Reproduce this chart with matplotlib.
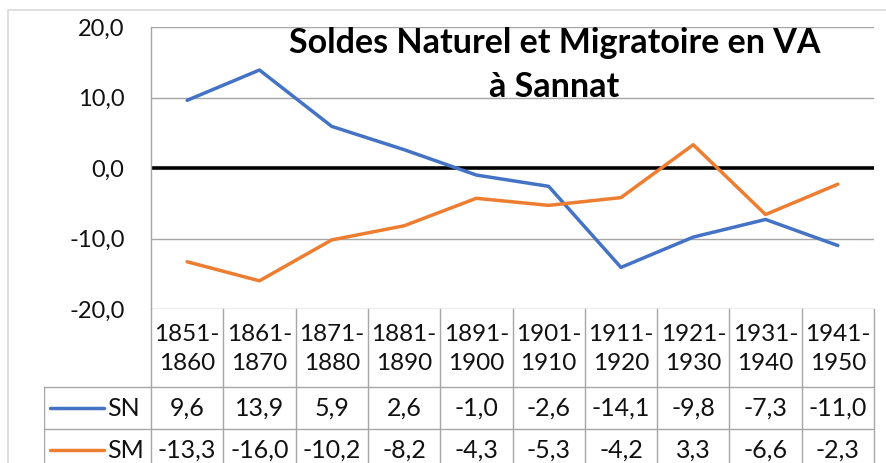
import matplotlib
matplotlib.use("Agg")
import matplotlib.pyplot as plt
from matplotlib.patches import Rectangle
from matplotlib.ticker import FuncFormatter

periods = ["1851-\n1860", "1861-\n1870", "1871-\n1880", "1881-\n1890", "1891-\n1900",
           "1901-\n1910", "1911-\n1920", "1921-\n1930", "1931-\n1940", "1941-\n1950"]
sn = [9.6, 13.9, 5.9, 2.6, -1.0, -2.6, -14.1, -9.8, -7.3, -11.0]
sm = [-13.3, -16.0, -10.2, -8.2, -4.3, -5.3, -4.2, 3.3, -6.6, -2.3]
series = [("SN", sn, "#4472C4"), ("SM", sm, "#ED7D31")]

plt.rcParams['font.family'] = ['Lato', 'DejaVu Sans']

W, H = 886, 463
fig = plt.figure(figsize=(W / 100, H / 100), dpi=100)

def fx(px):
    return px / W

def fy(py):
    return 1 - py / H

# outer chart border
fig.patches.append(Rectangle((fx(8), fy(470)), fx(900) - fx(8), fy(10) - fy(470),
                             transform=fig.transFigure, fill=False,
                             edgecolor="#D9D9D9", lw=1.2))

# plot area
left, right, top, bot = 151, 874, 27, 309
ax = fig.add_axes([fx(left), fy(bot), fx(right) - fx(left), fy(top) - fy(bot)])
n = len(periods)
x = list(range(n))
ax.set_xlim(-0.5, n - 0.5)
ax.set_ylim(-20, 20)
ax.set_yticks([-20, -10, 0, 10, 20])
ax.yaxis.set_major_formatter(FuncFormatter(lambda v, p: f"{v:.1f}".replace(".", ",")))
ax.tick_params(axis="y", length=0, pad=19, labelsize=17, labelcolor="#111111")
ax.set_xticks([])
for s in ["top", "right", "bottom"]:
    ax.spines[s].set_visible(False)
ax.spines["left"].set_color("#A6A6A6")
ax.spines["left"].set_linewidth(1)
ax.set_facecolor("none")
for v in [-20, -10, 10, 20]:
    ax.axhline(v, color="#A6A6A6", lw=1, zorder=0)
ax.axhline(0, color="black", lw=2.6, zorder=1)
for name, vals, col in series:
    ax.plot(x, vals, color=col, lw=2.5, solid_capstyle="round", zorder=3)

ax.text(0.558, 1.0, "Soldes Naturel et Migratoire en VA\nà Sannat",
        transform=ax.transAxes, ha="center", va="top", fontsize=24.5,
        fontweight="bold", linespacing=1.45)

# data table below the plot
leg_left = 44
unit = (right - left) / n
tab = fig.add_axes([fx(leg_left), 0, fx(right) - fx(leg_left), fy(bot)])
tab.set_xlim(-0.5 - (left - leg_left) / unit, n - 0.5)
tab.set_ylim(H - bot, 0)
tab.axis("off")
hdr, row_h = 78, 42
gc = "#A6A6A6"
for i in range(n + 1):
    tab.plot([i - 0.5, i - 0.5], [0, H - bot], color=gc, lw=1, clip_on=False)
xl = -0.5 - (left - leg_left) / unit
tab.plot([xl, xl], [hdr, H - bot], color=gc, lw=1)
for yy in [hdr, hdr + row_h]:
    tab.plot([xl, n - 0.5], [yy, yy], color=gc, lw=1)
for i, p in enumerate(periods):
    tab.text(i, hdr / 2 + 1, p, ha="center", va="center", fontsize=17.5,
             linespacing=1.5, color="#111111")
for r, (name, vals, col) in enumerate(series):
    yc = hdr + row_h * r + row_h / 2
    for i, v in enumerate(vals):
        tab.text(i, yc, f"{v:.1f}".replace(".", ","), ha="center", va="center",
                 fontsize=18, color="#111111")
    tab.plot([xl + 0.08, xl + 0.83], [yc, yc], color=col, lw=2.5, solid_capstyle="round")
    tab.text(xl + 0.88, yc, name, ha="left", va="center", fontsize=18, color="#111111")

fig.savefig("out.png", dpi=100)
